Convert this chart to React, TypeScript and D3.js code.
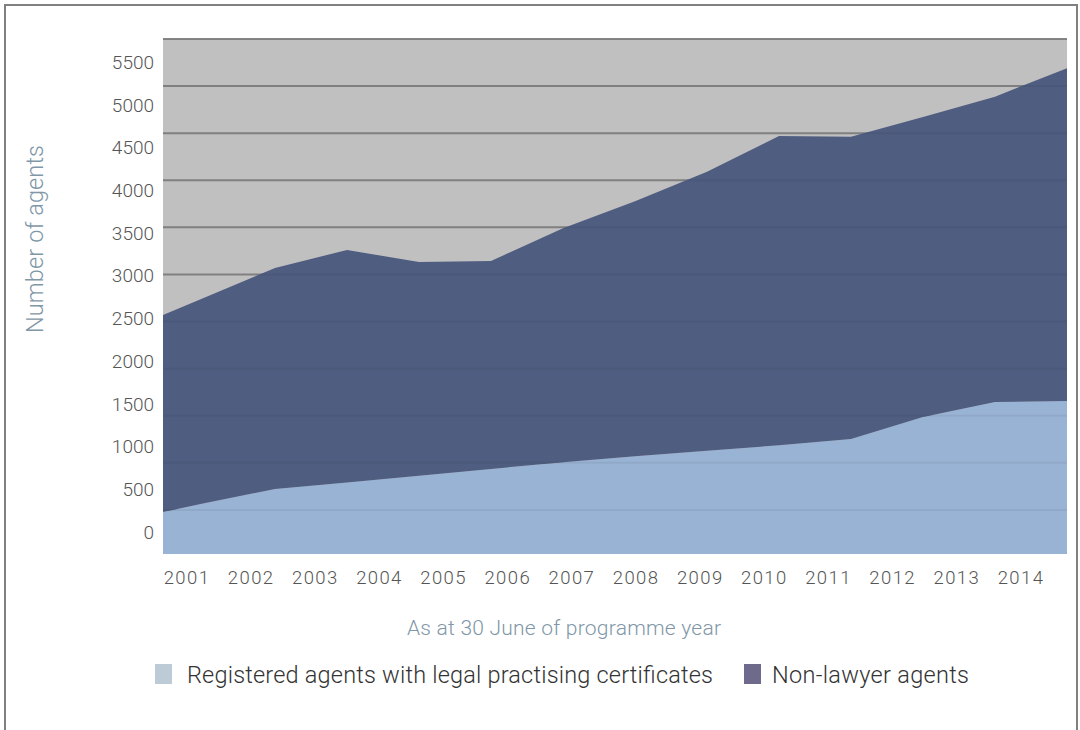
import React from 'react';
import * as d3 from 'd3';

const years = ['2001','2002','2003','2004','2005','2006','2007','2008','2009','2010','2011','2012','2013','2014'];
const lawyerAgents = [406, 567, 722, 792, 864, 935, 1007, 1069, 1129, 1186, 1253, 1487, 1646, 1656];
const nonLawyerAgents = [2021, 2181, 2347, 2468, 2268, 2208, 2483, 2709, 2962, 3284, 3210, 3185, 3242, 3533];
const yTicks = [0, 500, 1000, 1500, 2000, 2500, 3000, 3500, 4000, 4500, 5000, 5500];
const seriesNames = ['Registered agents with legal practising certificates', 'Non-lawyer agents'];

const W = 1080, H = 730;
const plot = { left: 163, right: 1067, top: 39, bottom: 554 };

export default function App() {
  const rows = years.map((yr, i) => ({ year: yr, lawyer: lawyerAgents[i], nonLawyer: nonLawyerAgents[i] }));
  const stack = d3.stack<any>().keys(['lawyer', 'nonLawyer']);
  const stacked = stack(rows);

  const x = d3.scalePoint<string>().domain(years).range([131, plot.right]);
  const y = d3.scaleLinear().domain([0, 5500]).range([557, plot.top]);
  const xLabel = d3.scalePoint<string>().domain(years).range([187, 1021]);
  const yLabel = d3.scaleLinear().domain([0, 5500]).range([532, 62]);

  const area = d3.area<any>()
    .x((d: any) => x(d.data.year) as number)
    .y0((d: any) => y(d[0]))
    .y1((d: any) => y(d[1]));

  const fills = ['#99b3d4', '#4f5d80'];
  const legendFills = ['#bccbd5', '#6e6a8c'];
  const font = 'Roboto, "Liberation Sans", Arial, sans-serif';
  const grid = yTicks.filter(t => y(t) <= plot.bottom);

  return (
    <svg width={W} height={H} style={{ position: 'absolute', left: 0, top: 0, background: '#fff' }} fontFamily={font} fontWeight={300}>
      <defs>
        <clipPath id="plotclip">
          <rect x={plot.left} y={plot.top} width={plot.right - plot.left} height={plot.bottom - plot.top} />
        </clipPath>
      </defs>
      <rect x={5} y={5} width={1072} height={740} fill="#fff" stroke="#808080" strokeWidth={2} />
      <rect x={plot.left} y={plot.top} width={plot.right - plot.left} height={plot.bottom - plot.top} fill="#c0c0c0" />
      {grid.map(t => (
        <line key={'g' + t} x1={plot.left} x2={plot.right} y1={y(t)} y2={y(t)} stroke="#878787" strokeWidth={2} />
      ))}
      <g clipPath="url(#plotclip)">
        {stacked.map((s, i) => (
          <path key={s.key} d={area(s as any) || ''} fill={fills[i]} />
        ))}
        {grid.map(t => (
          <line key={'o' + t} x1={plot.left} x2={plot.right} y1={y(t)} y2={y(t)} stroke="#000" strokeOpacity={0.05} strokeWidth={2} />
        ))}
      </g>
      {yTicks.map(t => (
        <text key={'yl' + t} x={154} y={yLabel(t)} dy="0.36em" textAnchor="end" fontSize={19} fill="#555">{t}</text>
      ))}
      {years.map(yr => (
        <text key={'xl' + yr} x={xLabel(yr)} y={577} dy="0.36em" textAnchor="middle" fontSize={18.5} letterSpacing={1.4} fill="#555">{yr}</text>
      ))}
      <text transform={`translate(43,239) rotate(-90)`} textAnchor="middle" fontSize={23.5} textLength={188} fill="#7f97a7">Number of agents</text>
      <text x={564} y={627} dy="0.36em" textAnchor="middle" fontSize={21} textLength={314} fill="#7f97a7">As at 30 June of programme year</text>
      <rect x={155} y={664} width={17} height={20} fill={legendFills[0]} />
      <text x={187} y={683} fontSize={23.5} textLength={526} fill="#333">{seriesNames[0]}</text>
      <rect x={744} y={664} width={17} height={20} fill={legendFills[1]} />
      <text x={772} y={683} fontSize={23.5} textLength={197} fill="#333">{seriesNames[1]}</text>
    </svg>
  );
}
